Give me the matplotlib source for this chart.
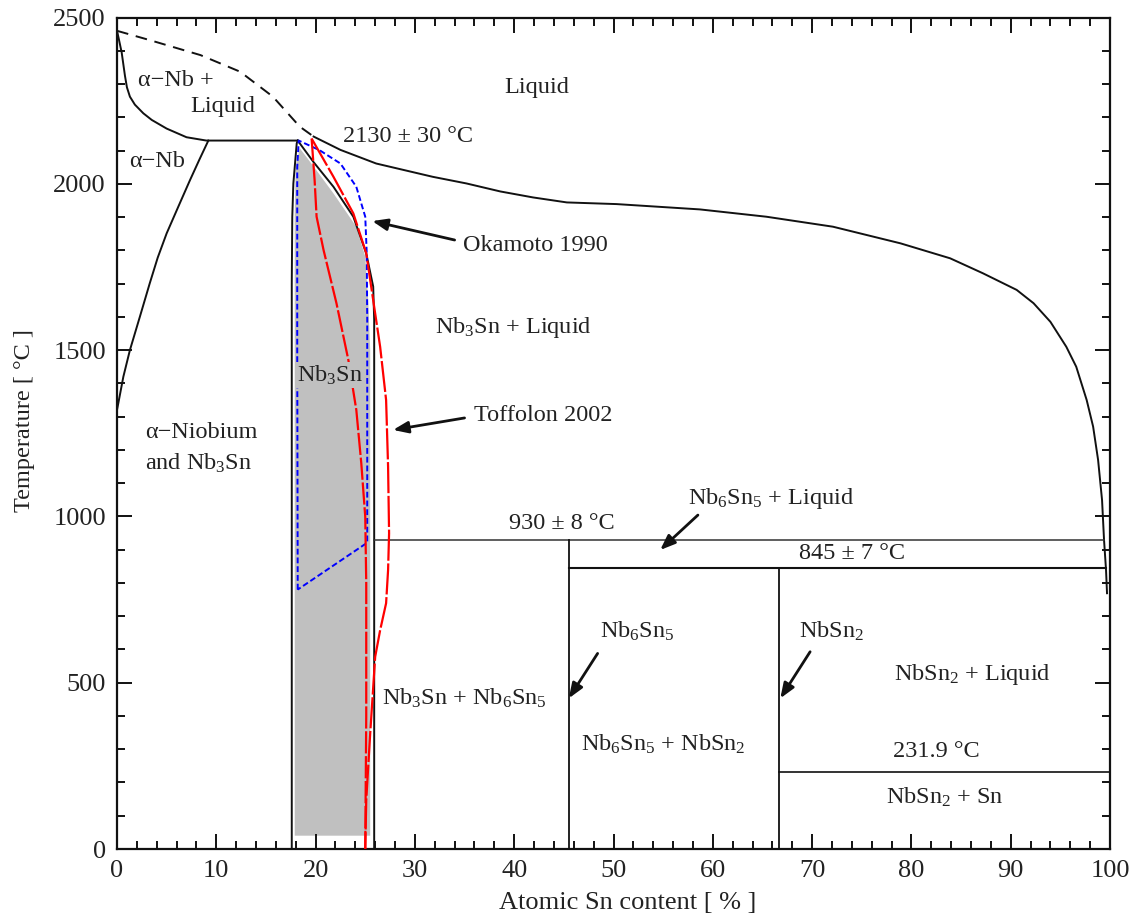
import matplotlib
matplotlib.use("Agg")
import matplotlib.pyplot as plt
from matplotlib.ticker import MultipleLocator

plt.rcParams['font.family'] = ['Liberation Serif', 'DejaVu Serif']
plt.rcParams['mathtext.fontset'] = 'custom'
plt.rcParams['mathtext.rm'] = 'Liberation Serif'
plt.rcParams['mathtext.it'] = 'Liberation Serif:italic'
plt.rcParams['mathtext.bf'] = 'Liberation Serif:bold'

# ---------------- data (atomic % Sn, temperature degC) ----------------
nb_liq_x = [0, 0.15, 0.47, 0.8, 1.0, 1.3, 1.8, 2.65, 3.5, 5.0, 7.0, 9.0, 18.2]
nb_liq_t = [2460, 2440, 2395, 2325, 2290, 2262, 2238, 2212, 2192, 2166, 2140, 2130, 2130]

nb_dash_x = [0, 3.3, 8.4, 12.4, 15.7, 18.4, 19.8]
nb_dash_t = [2460, 2432, 2387, 2337, 2262, 2172, 2142]

nb_solvus_x = [9.2, 8.3, 7.35, 6.2, 5.0, 4.1, 3.3, 2.3, 1.3, 0.64, 0.13, 0]
nb_solvus_t = [2130, 2073, 2011, 1933, 1851, 1778, 1701, 1600, 1500, 1420, 1340, 1320]

liquidus_x = [19.8, 22.5, 26.1, 31.8, 35.2, 38.6, 41.9, 45.3, 50.3, 58.7, 65.4,
              72.1, 78.9, 83.9, 87.2, 90.6, 92.3, 94.0, 95.6, 96.6, 97.65,
              98.3, 98.8, 99.2, 99.4, 99.6, 99.7]
liquidus_t = [2142, 2102, 2061, 2021, 2001, 1977, 1959, 1944, 1939, 1923, 1901,
              1871, 1821, 1776, 1731, 1681, 1641, 1585, 1510, 1450, 1350,
              1270, 1170, 1049, 929, 839, 769]

a15_left_x = [17.6, 17.6, 17.65, 17.76, 18.1, 18.2]
a15_left_t = [0, 1700, 1900, 2001, 2122, 2130]
a15_right_x = [18.2, 19.8, 21.8, 23.8, 25.1, 25.8, 25.9, 25.9]
a15_right_t = [2130, 2065, 1991, 1901, 1791, 1691, 1591, 0]

gray_x = [17.9, 17.9, 18.0, 18.4, 19.8, 21.8, 24.1, 25.0, 25.3, 25.5, 25.5]
gray_t = [40, 1900, 2050, 2107, 2052, 1971, 1871, 1781, 1650, 1500, 40]

okamoto_x = [18.2, 18.15, 18.15, 18.3, 20.4, 22.5, 24.1, 25.0, 25.15, 25.2, 25.2, 18.2]
okamoto_t = [780, 1500, 2050, 2130, 2101, 2061, 1991, 1901, 1791, 1591, 921, 780]

toff_in_x = [19.6, 19.9, 20.1, 20.8, 22.1, 23.3, 24.1, 24.6, 25.0, 25.1, 25.1, 25.1, 25.0]
toff_in_t = [2136, 2011, 1901, 1801, 1641, 1470, 1320, 1160, 999, 799, 658, 400, 0]

toff_out_x = [19.6, 21.8, 23.8, 25.1, 26.0, 26.5, 27.1, 27.3, 27.4, 27.3, 27.1,
              26.5, 26.0, 25.5, 25.1, 25.0]
toff_out_t = [2136, 2021, 1911, 1791, 1610, 1510, 1350, 1149, 949, 839, 739,
              658, 578, 348, 147, 0]

peritectic_930 = [25.9, 99.4, 930]
peritectic_845 = [45.5, 99.6, 845]
eutectic_232 = [66.7, 100, 231.9]
nb6sn5_line = [45.5, 0, 930]
nbsn2_line = [66.7, 0, 845]

xticks = [0, 10, 20, 30, 40, 50, 60, 70, 80, 90, 100]
yticks = [0, 500, 1000, 1500, 2000, 2500]

# ---------------- figure ----------------
fig = plt.figure(figsize=(11.38, 9.23), dpi=100)
ax = fig.add_axes([117/1138, 74/923, 993/1138, 831.5/923])

TXT = '#222222'
K = '#111111'
GRAY = '#c0c0c0'

ax.fill(gray_x, gray_t, color=GRAY, lw=0, zorder=1)

ax.plot(nb_liq_x, nb_liq_t, color=K, lw=1.4, zorder=3)
ax.plot(nb_dash_x, nb_dash_t, color=K, lw=1.4, dashes=(6, 4), zorder=3)
ax.plot(nb_solvus_x, nb_solvus_t, color=K, lw=1.4, zorder=3)
ax.plot(liquidus_x, liquidus_t, color=K, lw=1.4, zorder=3)
ax.plot(a15_left_x, a15_left_t, color=K, lw=1.4, zorder=3)
ax.plot(a15_right_x, a15_right_t, color=K, lw=1.4, zorder=3)

ax.plot(peritectic_930[:2], [peritectic_930[2]] * 2, color='#333333', lw=1.1, zorder=3)
ax.plot(peritectic_845[:2], [peritectic_845[2]] * 2, color=K, lw=1.5, zorder=3)
ax.plot(eutectic_232[:2], [eutectic_232[2]] * 2, color=K, lw=1.2, zorder=3)
ax.plot([nb6sn5_line[0]] * 2, nb6sn5_line[1:], color=K, lw=1.3, zorder=3)
ax.plot([nbsn2_line[0]] * 2, nbsn2_line[1:], color=K, lw=1.3, zorder=3)

ax.plot(okamoto_x, okamoto_t, color='#0000ff', lw=1.4, dashes=(3, 1.5), zorder=4)
ax.plot(toff_in_x, toff_in_t, color='#ff0000', lw=1.6, dashes=(10, 1.2), zorder=5)
ax.plot(toff_out_x, toff_out_t, color='#ff0000', lw=1.6, dashes=(14, 1.2), zorder=5)

FS = 17.5
def label(x, y, s, ha='center', **kw):
    ax.text(x, y, s, ha=ha, va='center', fontsize=FS, color=TXT, zorder=6, **kw)

label(42.3, 2290, 'Liquid')
label(2.1, 2312, 'α−Nb +', ha='left')
label(7.35, 2231, 'Liquid', ha='left')
label(4.0, 2066, 'α−Nb')
label(29.3, 2141, '2130 ± 30 °C')
label(42.1, 1813, 'Okamoto 1990')
label(39.9, 1568, 'Nb$_3$Sn + Liquid')
label(21.5, 1425, 'Nb$_3$Sn',
      bbox=dict(facecolor=GRAY, edgecolor='none', pad=1.0))
label(42.9, 1302, 'Toffolon 2002')
label(2.8, 1251, 'α−Niobium', ha='left')
label(2.8, 1160, 'and Nb$_3$Sn', ha='left')
label(44.8, 980, '930 ± 8 °C')
label(65.9, 1055, 'Nb$_6$Sn$_5$ + Liquid')
label(74.0, 887, '845 ± 7 °C')
label(52.4, 655, 'Nb$_6$Sn$_5$')
label(72.0, 655, 'NbSn$_2$')
label(86.1, 525, 'NbSn$_2$ + Liquid')
label(35.0, 453, 'Nb$_3$Sn + Nb$_6$Sn$_5$')
label(55.0, 315, 'Nb$_6$Sn$_5$ + NbSn$_2$')
label(82.5, 292, '231.9 °C')
label(83.4, 156, 'NbSn$_2$ + Sn')

arrows = [
    ((34.0, 1831), (25.7, 1888)),
    ((35.0, 1296), (27.8, 1260)),
    ((58.5, 1004), (54.7, 899)),
    ((48.4, 588), (45.5, 453)),
    ((69.8, 593), (66.8, 453)),
]
for tail, head in arrows:
    ax.annotate('', xy=head, xytext=tail,
                arrowprops=dict(arrowstyle='-|>,head_length=0.9,head_width=0.35',
                                color=K, lw=2.0, shrinkA=0, shrinkB=0),
                zorder=6)

ax.set_xlim(0, 100)
ax.set_ylim(0, 2500)
ax.set_xticks(xticks)
ax.set_yticks(yticks)
ax.xaxis.set_minor_locator(MultipleLocator(2))
ax.yaxis.set_minor_locator(MultipleLocator(100))
ax.tick_params(which='both', direction='in', top=True, right=True,
               labelsize=19, labelcolor=TXT, color=K, width=1.4)
ax.tick_params(which='major', length=11, pad=8)
ax.tick_params(which='minor', length=6)
for sp in ax.spines.values():
    sp.set_linewidth(1.6)
    sp.set_color(K)

ax.set_xlabel('Atomic Sn content [ % ]', fontsize=19, color=TXT)
ax.set_ylabel('Temperature [ °C ]', fontsize=17.5, color=TXT)
ax.xaxis.set_label_coords(0.514, -0.052)
ax.yaxis.set_label_coords(-0.083, 0.515)

fig.savefig('out.png', dpi=100)
